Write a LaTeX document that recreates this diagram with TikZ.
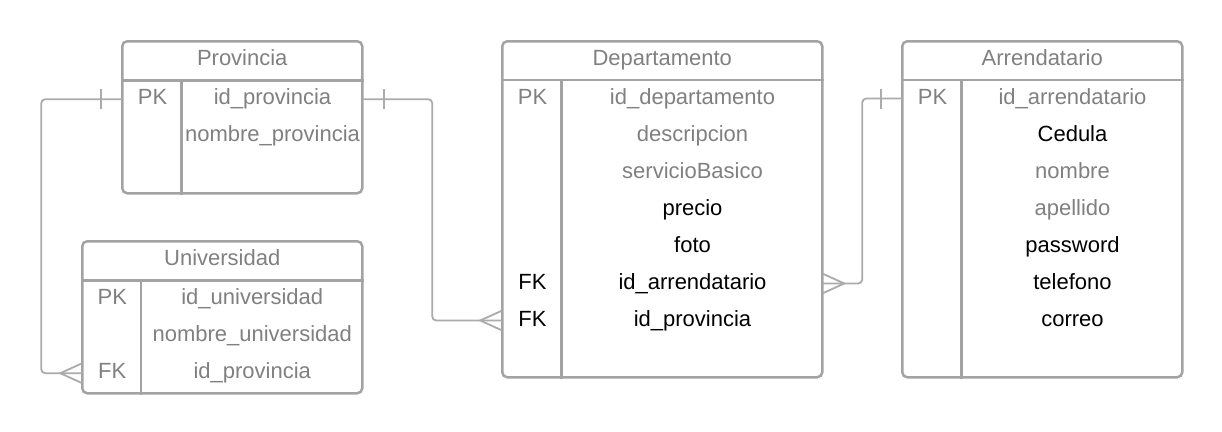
\documentclass[tikz,border=0pt]{standalone}
\usepackage{fontspec}
\setmainfont{Liberation Sans}
\definecolor{boxgray}{HTML}{A3A3A3}
\definecolor{conngray}{HTML}{ABABAB}
\definecolor{txtgray}{HTML}{808080}

\tikzset{
  tbl/.style={draw=boxgray,line width=2.5pt,rounded corners=5pt,
    anchor=north west,inner sep=0pt,minimum height=#1},
  sep/.style={draw=boxgray,line width=2.5pt},
  rowbox/.style={inner sep=0pt,outer sep=0pt,minimum height=37pt},
  fld/.style={font=\fontsize{22}{26}\selectfont,text height=16pt,
    text depth=5pt,inner sep=0pt},
  conn/.style={draw=conngray,line width=1.8pt,rounded corners=4pt},
}

\begin{document}
\begin{tikzpicture}[x=1pt,y=-1pt]
  \useasboundingbox (0,0) rectangle (1222,431);

  % Provincia
  \node[tbl=152pt,minimum width=240pt] (prov) at (121,40) {};
  \draw[sep] ([yshift=-40.7pt]prov.north west) -- ([yshift=-40.7pt]prov.north east);
  \draw[sep] ([xshift=60.5pt,yshift=-40.7pt]prov.north west) -- ([xshift=60.5pt]prov.south west);
  \node[fld,text=txtgray] (prov-h) at ([yshift=-20pt]prov.north) {Provincia};
  \foreach \k/\f/\c [count=\i] in {PK/id\_provincia/txtgray,/nombre\_provincia/txtgray} {
    \node[rowbox,minimum width=240pt] (prov-r\i) at ([yshift={-22.2pt-37pt*\i}]prov.north) {};
    \node[fld,text=\c] at ([xshift=30.25pt]prov-r\i.west) {\k};
    \node[fld,text=\c] at ([xshift=150.25pt]prov-r\i.west) {\f};
  }

  % Universidad
  \node[tbl=152pt,minimum width=280pt] (uni) at (81,240) {};
  \draw[sep] ([yshift=-40.7pt]uni.north west) -- ([yshift=-40.7pt]uni.north east);
  \draw[sep] ([xshift=60pt,yshift=-40.7pt]uni.north west) -- ([xshift=60pt]uni.south west);
  \node[fld,text=txtgray] (uni-h) at ([yshift=-20pt]uni.north) {Universidad};
  \foreach \k/\f/\c [count=\i] in {PK/id\_universidad/txtgray,/nombre\_universidad/txtgray,FK/id\_provincia/txtgray} {
    \node[rowbox,minimum width=280pt] (uni-r\i) at ([yshift={-22.2pt-37pt*\i}]uni.north) {};
    \node[fld,text=\c] at ([xshift=30pt]uni-r\i.west) {\k};
    \node[fld,text=\c] at ([xshift=170pt]uni-r\i.west) {\f};
  }

  % Departamento
  \node[tbl=336pt,minimum width=320pt] (dep) at (501,40) {};
  \draw[sep] ([yshift=-40pt]dep.north west) -- ([yshift=-40pt]dep.north east);
  \draw[sep] ([xshift=60.5pt,yshift=-40pt]dep.north west) -- ([xshift=60.5pt]dep.south west);
  \node[fld,text=txtgray] (dep-h) at ([yshift=-20pt]dep.north) {Departamento};
  \foreach \k/\f/\c [count=\i] in {PK/id\_departamento/txtgray,/descripcion/txtgray,
      /servicioBasico/txtgray,/precio/black,/foto/black,FK/id\_arrendatario/black,
      FK/id\_provincia/black} {
    \node[rowbox,minimum width=320pt] (dep-r\i) at ([yshift={-21.5pt-37pt*\i}]dep.north) {};
    \node[fld,text=\c] at ([xshift=30.25pt]dep-r\i.west) {\k};
    \node[fld,text=\c] at ([xshift=190.25pt]dep-r\i.west) {\f};
  }

  % Arrendatario
  \node[tbl=336pt,minimum width=280pt] (arr) at (901,40) {};
  \draw[sep] ([yshift=-40pt]arr.north west) -- ([yshift=-40pt]arr.north east);
  \draw[sep] ([xshift=60.5pt,yshift=-40pt]arr.north west) -- ([xshift=60.5pt]arr.south west);
  \node[fld,text=txtgray] (arr-h) at ([yshift=-20pt]arr.north) {Arrendatario};
  \foreach \k/\f/\c [count=\i] in {PK/id\_arrendatario/txtgray,/Cedula/black,
      /nombre/txtgray,/apellido/txtgray,/password/black,/telefono/black,/correo/black} {
    \node[rowbox,minimum width=280pt] (arr-r\i) at ([yshift={-21.5pt-37pt*\i}]arr.north) {};
    \node[fld,text=\c] at ([xshift=30.25pt]arr-r\i.west) {\k};
    \node[fld,text=\c] at ([xshift=170.25pt]arr-r\i.west) {\f};
  }

  % relaciones
  \draw[conn] (prov-r1.west) -- ++(-81,0) |- (uni-r3.west);
  \draw[conn] (prov-r1.east) -- ++(70,0) |- (dep-r7.west);
  \draw[conn] (arr-r1.west) -- ++(-40,0) |- (dep-r6.east);

  % uno
  \foreach \n/\s in {prov-r1.west/-1,prov-r1.east/1,arr-r1.west/-1}
    \draw[conn] ([xshift=\s*21.5pt,yshift=10pt]\n) -- ([xshift=\s*21.5pt,yshift=-10pt]\n);
  % muchos
  \foreach \n/\s in {uni-r3.west/-1,dep-r7.west/-1,dep-r6.east/1}
    \draw[conn,rounded corners=0pt] ([yshift=10pt]\n) -- ([xshift=\s*22pt]\n) -- ([yshift=-10pt]\n);
\end{tikzpicture}
\end{document}
